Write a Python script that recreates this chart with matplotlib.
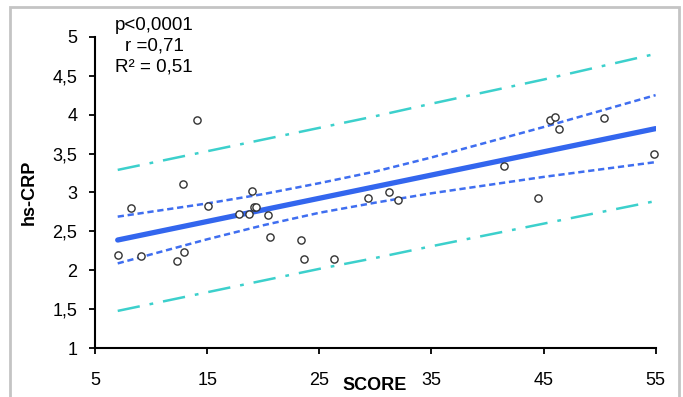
import matplotlib
matplotlib.use("Agg")
import matplotlib.pyplot as plt
from matplotlib.patches import Rectangle

plt.rcParams['font.family'] = ['Liberation Sans', 'DejaVu Sans']

# Data points (SCORE, hs-CRP)
score = [7.0, 8.2, 9.1, 12.3, 12.8, 12.9, 14.1, 15.1, 17.8, 18.7, 19.0, 19.2, 19.3,
         20.4, 20.6, 23.4, 23.6, 26.3, 29.3, 31.2, 32.0, 41.5, 44.5, 45.6, 46.0, 46.4,
         50.4, 54.9]
hscrp = [2.20, 2.80, 2.19, 2.12, 3.11, 2.23, 3.93, 2.83, 2.73, 2.73, 3.02, 2.82, 2.81,
         2.71, 2.43, 2.39, 2.14, 2.15, 2.93, 3.01, 2.91, 3.34, 2.93, 3.93, 3.97, 3.82,
         3.96, 3.49]

# Regression line and bands
fit_x = [7, 55]
fit_y = [2.39, 3.82]
band_x = [7, 15, 20, 25, 30, 35, 45, 55]
conf_upper = [2.69, 2.86, 2.98, 3.12, 3.27, 3.45, 3.84, 4.25]
conf_lower = [2.09, 2.40, 2.58, 2.74, 2.87, 2.99, 3.20, 3.39]
pred_upper = [3.29, 3.53, 3.68, 3.83, 3.98, 4.14, 4.45, 4.78]
pred_lower = [1.48, 1.72, 1.87, 2.02, 2.16, 2.31, 2.60, 2.89]

xticks = [5, 15, 25, 35, 45, 55]
yticks = [1, 1.5, 2, 2.5, 3, 3.5, 4, 4.5, 5]
ytick_labels = ['1', '1,5', '2', '2,5', '3', '3,5', '4', '4,5', '5']
stats_lines = ['p<0,0001', 'r =0,71', 'R² = 0,51']

W, H = 683, 397
fig = plt.figure(figsize=(W / 100, H / 100), dpi=100)
ax = fig.add_axes([95.3 / W, 1 - 348.3 / H, (655.6 - 95.3) / W, (348.3 - 36.7) / H])

ax.plot(band_x, pred_upper, color='#3cd0cc', lw=1.8, linestyle=(0, (9, 4, 1.5, 4)))
ax.plot(band_x, pred_lower, color='#3cd0cc', lw=1.8, linestyle=(0, (9, 4, 1.5, 4)))
ax.plot(band_x, conf_upper, color='#3f6ef0', lw=1.8, linestyle=(0, (2.5, 1.5)))
ax.plot(band_x, conf_lower, color='#3f6ef0', lw=1.8, linestyle=(0, (2.5, 1.5)))
ax.plot(fit_x, fit_y, color='#3366ee', lw=3.8, solid_capstyle='round')
ax.plot(score, hscrp, linestyle='none', marker='o', markersize=5.2,
        markerfacecolor='white', markeredgecolor='#333333', markeredgewidth=1.0,
        clip_on=False, zorder=5)

ax.set_xlim(5, 55)
ax.set_ylim(1, 5)
ax.set_xticks(xticks)
ax.set_xticklabels([str(v) for v in xticks])
ax.set_yticks(yticks)
ax.set_yticklabels(ytick_labels)
for s in ['top', 'right']:
    ax.spines[s].set_visible(False)
for s in ['left', 'bottom']:
    ax.spines[s].set_linewidth(1.5)
    ax.spines[s].set_color('black')
ax.tick_params(axis='x', direction='out', length=4, width=1.3, pad=13, labelsize=13)
ax.tick_params(axis='y', direction='out', length=4, width=1.3, pad=9, labelsize=13)

fig.text(375 / W, 1 - 385 / H, 'SCORE', ha='center', va='center',
         fontsize=13, fontweight='bold')
fig.text(29 / W, 1 - 192 / H, 'hs-CRP', ha='center', va='center', rotation=90,
         fontsize=13, fontweight='bold')

for i, t in enumerate(stats_lines):
    fig.text(154 / W, 1 - (25 + 21 * i) / H, t, ha='center', va='center', fontsize=13.5)

fig.patches.append(Rectangle((10 / W, -0.02), (679 - 10) / W, 1 - 7 / H + 0.02,
                             transform=fig.transFigure, fill=False,
                             edgecolor='#c4c4c4', lw=2))

fig.savefig('out.png', dpi=100)
